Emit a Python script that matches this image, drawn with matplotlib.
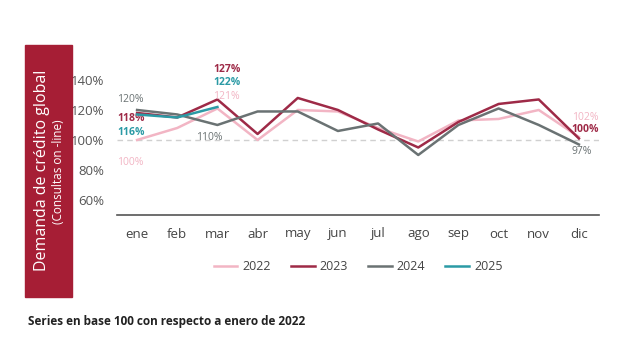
import matplotlib
matplotlib.use("Agg")
import matplotlib.pyplot as plt
from matplotlib.patches import Rectangle

plt.rcParams['font.family'] = ['Open Sans', 'DejaVu Sans']

months = ['ene', 'feb', 'mar', 'abr', 'may', 'jun', 'jul', 'ago', 'sep', 'oct', 'nov', 'dic']
y2022 = [100, 108, 121, 100, 120, 119, 108, 99, 113, 114, 120, 102]
y2023 = [118, 115, 127, 104, 128, 120, 107, 95, 112, 124, 127, 101]
y2024 = [120, 117, 110, 119, 119, 106, 111, 90, 110, 121, 110, 97]
y2025 = [117, 115, 122]
yticks = [60, 80, 100, 120, 140]

c22 = '#F2B5C4'
c23 = '#9E2A47'
c24 = '#6A7273'
c25 = '#2B9AA5'
bar_red = '#A61E35'


def main():
    fig = plt.figure(figsize=(6.2, 3.5), dpi=100)
    ax = fig.add_axes([117 / 620, 1 - 215 / 350, 482 / 620, 170 / 350])

    # red side panel with the axis title
    fig.patches.append(Rectangle((25 / 620, 1 - 297 / 350), 47 / 620, 252 / 350,
                                 transform=fig.transFigure, color=bar_red, zorder=0))
    fig.text(42 / 620, 1 - 170 / 350, 'Demanda de crédito global', rotation=90,
             color='white', fontsize=11.5, ha='center', va='center')
    fig.text(59 / 620, 1 - 172 / 350, '(Consultas on -line)', rotation=90,
             color='white', fontsize=8.5, ha='center', va='center')

    x = list(range(len(months)))
    ax.axhline(100, color='#D0D0D0', lw=1, ls=(0, (4, 3)), zorder=1)
    ax.plot(x, y2022, color=c22, lw=1.8, label='2022', zorder=2)
    ax.plot(x, y2023, color=c23, lw=1.8, label='2023', zorder=3)
    ax.plot(x, y2024, color=c24, lw=1.8, label='2024', zorder=4)
    ax.plot(x[:len(y2025)], y2025, color=c25, lw=1.8, label='2025', zorder=5)

    ax.set_xlim(-0.5, 11.5)
    ax.set_ylim(50, 163.3)
    ax.set_xticks(x)
    ax.set_xticklabels(months, fontsize=9.5, color='#444444')
    ax.set_yticks(yticks)
    ax.set_yticklabels([f'{v}%' for v in yticks], fontsize=9.5, color='#555555')
    ax.tick_params(length=0)
    ax.tick_params(axis='x', pad=9)
    ax.tick_params(axis='y', pad=9)
    for s in ['top', 'right', 'left']:
        ax.spines[s].set_visible(False)
    ax.spines['bottom'].set_color('#555555')
    ax.spines['bottom'].set_linewidth(1.2)

    # value labels
    fs = 7.5
    ax.text(-0.5, 127, '120%', color=c24, fontsize=fs, ha='left', va='center')
    ax.text(-0.5, 114, '118%', color=c23, fontsize=fs, ha='left', va='center', fontweight='bold')
    ax.text(-0.5, 104.7, '116%', color=c25, fontsize=fs, ha='left', va='center', fontweight='bold')
    ax.text(-0.5, 85.3, '100%', color=c22, fontsize=fs, ha='left', va='center')
    ax.text(2.23, 146.7, '127%', color=c23, fontsize=fs, ha='center', va='center', fontweight='bold')
    ax.text(2.23, 138.2, '122%', color=c25, fontsize=fs, ha='center', va='center', fontweight='bold')
    ax.text(2.23, 128.9, '121%', color=c22, fontsize=fs, ha='center', va='center')
    ax.text(1.8, 101.5, '110%', color=c24, fontsize=fs, ha='center', va='center')
    ax.text(10.82, 114.7, '102%', color=c22, fontsize=fs, ha='left', va='center')
    ax.text(10.82, 107.3, '100%', color=c23, fontsize=fs, ha='left', va='center', fontweight='bold')
    ax.text(10.82, 92, '97%', color=c24, fontsize=fs, ha='left', va='center')

    fig.legend(loc='center', bbox_to_anchor=(358 / 620, 1 - 267 / 350), ncol=4,
               frameon=False, fontsize=9, handlelength=1.9, handletextpad=0.4,
               columnspacing=1.6, labelcolor='#444444')

    fig.text(28 / 620, 1 - 321 / 350, 'Series en base 100 con respecto a enero de 2022',
             fontsize=8.5, fontweight='bold', color='#222222', ha='left', va='center')

    fig.savefig('out.png', dpi=100)


if __name__ == '__main__':
    main()
